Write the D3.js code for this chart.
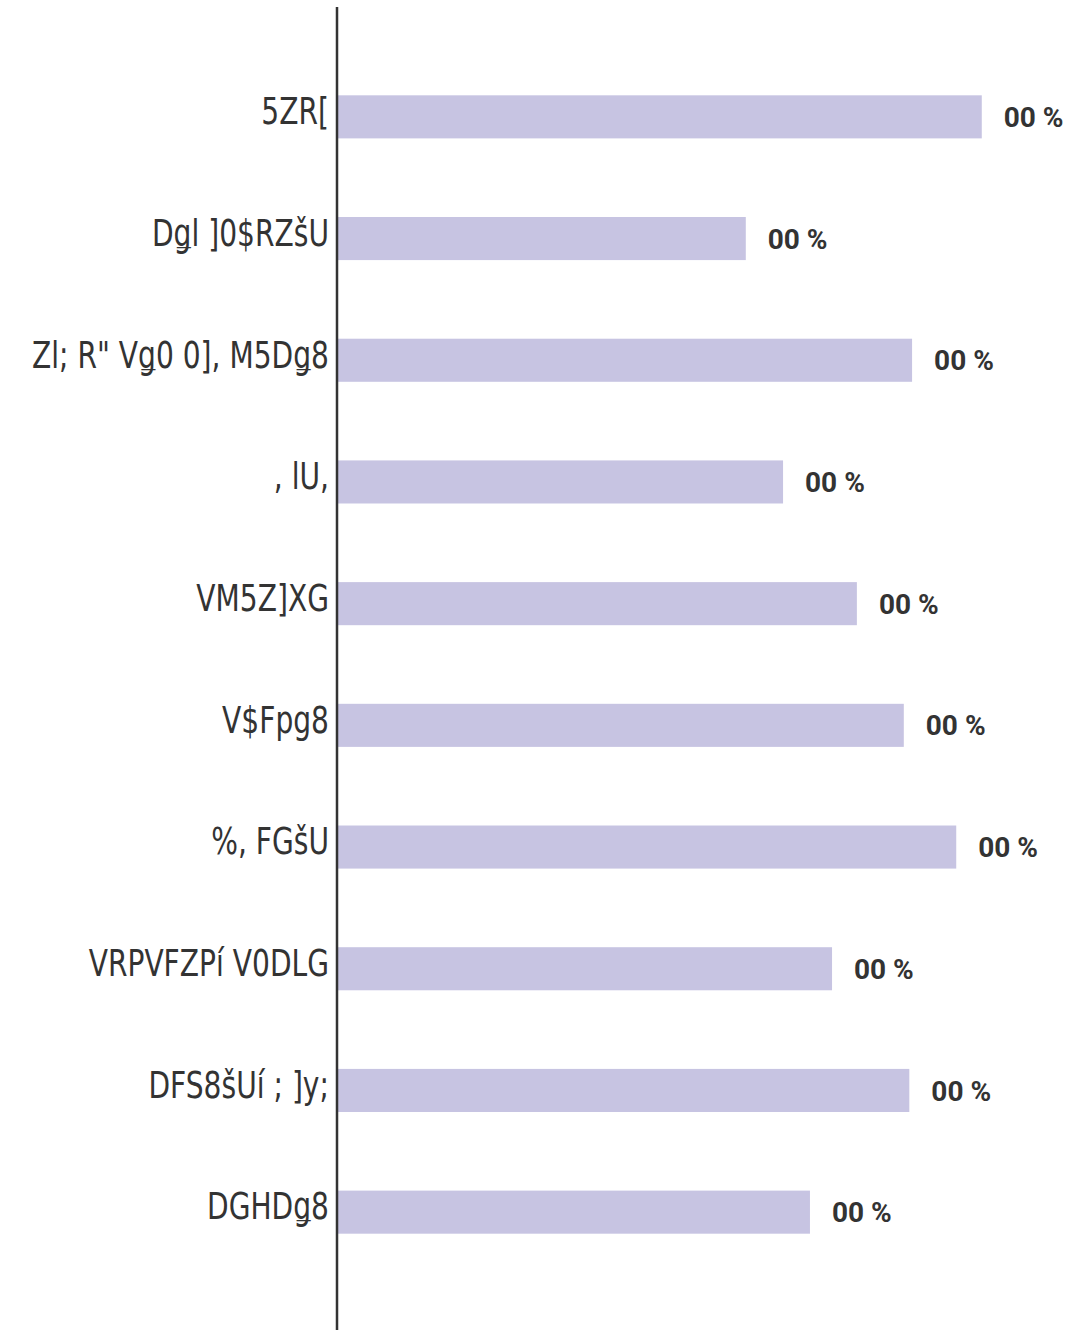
<!DOCTYPE html>
<html>
<head>
<meta charset="utf-8">
<script src="https://cdn.jsdelivr.net/npm/d3@7"></script>
<style>
  body { margin: 0; background: #fff; }
  svg { display: block; }
</style>
</head>
<body>
<svg id="chart" width="1080" height="1330"></svg>
<script>
// categories as they appear in the picture (glyphs are garbled in the source)
const categories = [
  "5ZR[",
  "Dǥl ]0$RZšU",
  "Zl; R\" Vǥ0 0], M5Dǥ8",
  ", lU,",
  "VM5Z]XG",
  "V$Fpg8",
  "%, FGšU",
  "VRPVFZPí V0DLG",
  "DFS8šUí ; ]y;",
  "DGHDǥ8"
];
// bar lengths, as percent of the axis
const values = [93.3, 59.1, 83.2, 64.5, 75.2, 82.0, 89.6, 71.6, 82.8, 68.4];
const valueLabels = ["00 %", "00 %", "00 %", "00 %", "00 %", "00 %", "00 %", "00 %", "00 %", "00 %"];

const width = 1080,
      height = 1330,
      axisX = 337,
      squeeze = 0.76;   // source labels use a tall, narrow face

const svg = d3.select('#chart');

const y = d3.scaleBand()
  .domain(categories)
  .range([56, 1273])
  .paddingInner(0.646)
  .paddingOuter(0.323);

const x = d3.scaleLinear()
  .domain([0, 100])
  .range([axisX + 1, 1028]);

// bars
svg.append('g')
  .selectAll('rect')
  .data(values)
  .join('rect')
    .attr('x', x(0))
    .attr('y', (d, i) => y(categories[i]))
    .attr('width', d => x(d) - x(0))
    .attr('height', y.bandwidth())
    .attr('fill', '#c7c4e2');

// value labels
svg.append('g')
  .selectAll('text')
  .data(values)
  .join('text')
    .attr('x', d => x(d) + 22)
    .attr('y', (d, i) => y(categories[i]) + y.bandwidth() / 2)
    .attr('dy', '0.36em')
    .style('font-family', 'Roboto, sans-serif')
    .style('font-weight', 700)
    .style('font-size', '28px')
    .attr('fill', '#333')
    .text((d, i) => valueLabels[i]);

// category labels, squeezed horizontally
svg.append('g')
  .selectAll('text')
  .data(categories)
  .join('text')
    .attr('transform', d => 'translate(' + (axisX - 8) + ',' + (y(d) + y.bandwidth() / 2 - 6) + ') scale(' + squeeze + ',1)')
    .attr('text-anchor', 'end')
    .attr('dy', '0.36em')
    .style('font-family', '"DejaVu Sans", sans-serif')
    .style('font-size', '37px')
    .attr('fill', '#333')
    .text(d => d);

svg.append('line')
  .attr('x1', axisX).attr('x2', axisX)
  .attr('y1', 7).attr('y2', height)
  .attr('stroke', '#333')
  .attr('stroke-width', 2.5);
</script>
</body>
</html>
